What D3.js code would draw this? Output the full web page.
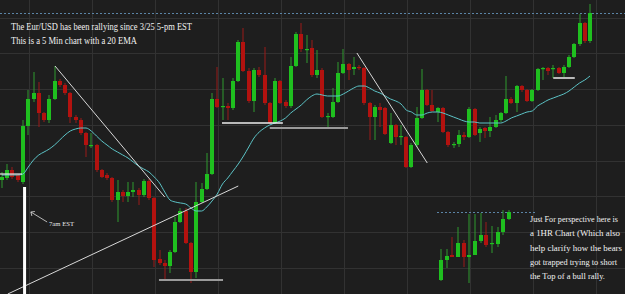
<!DOCTYPE html>
<html>
<head>
<meta charset="utf-8">
<script src="https://cdn.jsdelivr.net/npm/d3@7"></script>
<style>
  html, body { margin: 0; padding: 0; background: #1e1e1e; }
  svg { display: block; }
</style>
</head>
<body>
<svg id="chart"></svg>
<script>
// 5 min EUR/USD candles (price)
const opens = [1.2820,1.2822,1.2830,1.2825,1.2818,1.2874,1.2901,1.2907,1.2887,1.2880,
  1.2901,1.2919,1.2915,1.2907,1.2883,1.2880,1.2867,1.2854,1.2855,1.2830,
  1.2825,1.2822,1.2800,1.2808,1.2804,1.2808,1.2810,1.2805,1.2819,1.2802,
  1.2741,1.2737,1.2734,1.2748,1.2778,1.2789,1.2757,1.2728,1.2798,1.2811,
  1.2826,1.2901,1.2893,1.2894,1.2892,1.2919,1.2958,1.2929,1.2899,1.2930,
  1.2925,1.2897,1.2877,1.2919,1.2898,1.2894,1.2934,1.2966,1.2950,1.2952,
  1.2925,1.2930,1.2883,1.2883,1.2898,1.2927,1.2936,1.2931,1.2933,1.2932,
  1.2897,1.2883,1.2893,1.2892,1.2857,1.2875,1.2863,1.2863,1.2833,1.2855,
  1.2882,1.2910,1.2895,1.2888,1.2892,1.2868,1.2855,1.2856,1.2865,1.2863,
  1.2891,1.2867,1.2872,1.2869,1.2873,1.2880,1.2887,1.2901,1.2897,1.2914,
  1.2910,1.2899,1.2910,1.2931,1.2932,1.2931,1.2932,1.2927,1.2933,1.2943,
  1.2956,1.2977,1.2959];
const highs = [1.2828,1.2836,1.2833,1.2826,1.2880,1.2910,1.2928,1.2918,1.2888,1.2905,
  1.2934,1.2921,1.2917,1.2908,1.2885,1.2882,1.2868,1.2867,1.2856,1.2831,
  1.2827,1.2823,1.2820,1.2810,1.2818,1.2818,1.2812,1.2821,1.2821,1.2803,
  1.2750,1.2740,1.2750,1.2783,1.2792,1.2792,1.2758,1.2818,1.2817,1.2847,
  1.2907,1.2933,1.2922,1.2897,1.2922,1.2960,1.2972,1.2932,1.2932,1.2933,
  1.2953,1.2898,1.2922,1.2920,1.2900,1.2943,1.2968,1.2977,1.2965,1.2960,
  1.2950,1.2932,1.2887,1.2912,1.2938,1.2951,1.2937,1.2943,1.2935,1.2933,
  1.2898,1.2895,1.2897,1.2893,1.2887,1.2876,1.2875,1.2864,1.2857,1.2893,
  1.2931,1.2911,1.2910,1.2893,1.2893,1.2869,1.2858,1.2870,1.2868,1.2893,
  1.2892,1.2873,1.2873,1.2883,1.2885,1.2888,1.2924,1.2903,1.2915,1.2915,
  1.2911,1.2911,1.2932,1.2933,1.2933,1.2935,1.2933,1.2935,1.2945,1.2957,
  1.2986,1.2978,1.2996];
const lows = [1.2812,1.2820,1.2821,1.2818,1.2816,1.2865,1.2898,1.2873,1.2878,1.2877,
  1.2900,1.2913,1.2905,1.2877,1.2877,1.2865,1.2843,1.2852,1.2828,1.2822,
  1.2820,1.2798,1.2778,1.2798,1.2798,1.2803,1.2795,1.2803,1.2800,1.2733,
  1.2735,1.2720,1.2727,1.2747,1.2777,1.2756,1.2717,1.2722,1.2797,1.2810,
  1.2825,1.2892,1.2880,1.2880,1.2890,1.2918,1.2928,1.2897,1.2888,1.2923,
  1.2895,1.2876,1.2876,1.2896,1.2892,1.2892,1.2933,1.2948,1.2937,1.2923,
  1.2922,1.2882,1.2873,1.2882,1.2897,1.2926,1.2920,1.2925,1.2930,1.2895,
  1.2860,1.2860,1.2873,1.2865,1.2856,1.2855,1.2855,1.2832,1.2832,1.2853,
  1.2881,1.2894,1.2888,1.2878,1.2867,1.2853,1.2852,1.2853,1.2860,1.2862,
  1.2864,1.2858,1.2862,1.2863,1.2872,1.2878,1.2886,1.2896,1.2888,1.2908,
  1.2898,1.2898,1.2909,1.2920,1.2925,1.2922,1.2926,1.2923,1.2932,1.2942,
  1.2954,1.2957,1.2957];
const closes = [1.2823,1.2830,1.2823,1.2820,1.2874,1.2901,1.2907,1.2887,1.2880,1.2901,
  1.2919,1.2915,1.2907,1.2883,1.2880,1.2867,1.2855,1.2855,1.2830,1.2823,
  1.2822,1.2800,1.2808,1.2804,1.2808,1.2810,1.2805,1.2819,1.2802,1.2740,
  1.2737,1.2734,1.2748,1.2778,1.2789,1.2757,1.2728,1.2798,1.2811,1.2826,
  1.2901,1.2893,1.2894,1.2892,1.2919,1.2958,1.2929,1.2899,1.2930,1.2925,
  1.2897,1.2877,1.2919,1.2897,1.2894,1.2934,1.2966,1.2951,1.2951,1.2925,
  1.2930,1.2883,1.2884,1.2898,1.2927,1.2936,1.2930,1.2933,1.2932,1.2897,
  1.2883,1.2893,1.2890,1.2866,1.2875,1.2863,1.2864,1.2833,1.2855,1.2882,
  1.2910,1.2895,1.2889,1.2892,1.2868,1.2855,1.2856,1.2865,1.2863,1.2891,
  1.2865,1.2871,1.2869,1.2873,1.2880,1.2887,1.2901,1.2897,1.2914,1.2910,
  1.2899,1.2910,1.2931,1.2932,1.2929,1.2932,1.2927,1.2933,1.2943,1.2956,
  1.2977,1.2959,1.2987];
// 20 EMA as drawn on the chart
const ema20 = [1.2825,1.2825,1.2825,1.2825,1.2826,1.2833,1.2840,1.2845,1.2848,1.2851,
  1.2855,1.2860,1.2865,1.2869,1.2871,1.2872,1.2872,1.2869,1.2864,1.2859,
  1.2855,1.2851,1.2848,1.2845,1.2842,1.2838,1.2834,1.2831,1.2828,1.2823,
  1.2817,1.2808,1.2800,1.2798,1.2797,1.2796,1.2792,1.2789,1.2789,1.2793,
  1.2799,1.2806,1.2816,1.2822,1.2829,1.2836,1.2844,1.2853,1.2862,1.2868,
  1.2872,1.2875,1.2877,1.2879,1.2882,1.2887,1.2891,1.2895,1.2900,1.2904,
  1.2906,1.2905,1.2904,1.2904,1.2904,1.2906,1.2909,1.2912,1.2914,1.2914,
  1.2912,1.2909,1.2907,1.2904,1.2901,1.2899,1.2896,1.2890,1.2888,1.2885,
  1.2885,1.2887,1.2888,1.2888,1.2887,1.2885,1.2883,1.2881,1.2879,1.2878,
  1.2878,1.2877,1.2877,1.2877,1.2877,1.2877,1.2879,1.2882,1.2884,1.2886,
  1.2888,1.2889,1.2894,1.2897,1.2900,1.2902,1.2904,1.2906,1.2909,1.2913,
  1.2917,1.2920,1.2924];

// 1 hour inset candles
const hrOpens  = [1.2720,1.2740,1.2745,1.2743,1.2757,1.2743,1.2745,1.2759,1.2765,1.2756,1.2756,1.2768,1.2781];
const hrHighs  = [1.2751,1.2751,1.2763,1.2773,1.2760,1.2786,1.2786,1.2787,1.2778,1.2774,1.2773,1.2790,1.2790];
const hrLows   = [1.2719,1.2732,1.2743,1.2743,1.2733,1.2717,1.2745,1.2757,1.2753,1.2747,1.2753,1.2765,1.2780];
const hrCloses = [1.2740,1.2744,1.2743,1.2757,1.2743,1.2745,1.2759,1.2765,1.2755,1.2757,1.2768,1.2781,1.2788];

// grid levels
const gridPrices = [1.2982,1.2947,1.2911,1.2875,1.2839,1.2804,1.2768,1.2732];
const gridCandles = [5,17,29,41,53,65,77,89,101,113];

// hand drawn lines: [candle index, price] pairs
const trendLines = [
  {from: [10.1, 1.2934], to: [31.0, 1.2803], color: "#d8d8d8", w: 1},
  {from: [1.1, 1.2706], to: [45.0, 1.2814], color: "#d8d8d8", w: 1},
  {from: [67.6, 1.2947], to: [81.0, 1.2837], color: "#d8d8d8", w: 1},
  {from: [-0.4, 1.2826], to: [3.8, 1.2826], color: "#e6e6e6", w: 1.2},
  {from: [41.9, 1.2877], to: [53.5, 1.2877], color: "#eeeeee", w: 1.5},
  {from: [51.0, 1.2872], to: [65.9, 1.2872], color: "#9a9a9a", w: 2},
  {from: [29.9, 1.2720], to: [42.1, 1.2720], color: "#9a9a9a", w: 2},
  {from: [105.0, 1.2922], to: [109.1, 1.2922], color: "#eeeeee", w: 1.5}
];
const openBar = {candle: 4.3, top: 1.2813};

const width = 625, height = 294;

const svg = d3.select("#chart")
    .attr("width", width)
    .attr("height", height);

svg.append("rect")
    .attr("width", width)
    .attr("height", height)
    .attr("fill", "#1e1e1e");

// Escalas
const x = d3.scaleLinear().domain([0, 112]).range([2, 590]);
const y = d3.scaleLinear().domain([1.2706, 1.3000]).range([height, 0]);
const xHr = d3.scaleLinear().domain([0, 12]).range([441, 509]);

// grid
svg.append("g").selectAll("line")
    .data(gridPrices)
    .join("line")
    .attr("x1", 0).attr("x2", width)
    .attr("y1", d => Math.round(y(d)) + 0.5)
    .attr("y2", d => Math.round(y(d)) + 0.5)
    .attr("stroke", "#323232");

svg.append("g").selectAll("line")
    .data(gridCandles)
    .join("line")
    .attr("x1", d => Math.round(x(d) + 0.75) + 0.5)
    .attr("x2", d => Math.round(x(d) + 0.75) + 0.5)
    .attr("y1", 0).attr("y2", height)
    .attr("stroke", "#323232");

// last price lines
svg.append("line")
    .attr("x1", 0).attr("x2", width)
    .attr("y1", Math.round(y(closes[closes.length - 1])) + 0.5)
    .attr("y2", Math.round(y(closes[closes.length - 1])) + 0.5)
    .attr("stroke", "#5b84a6")
    .attr("stroke-dasharray", "2,2");

svg.append("line")
    .attr("x1", xHr(0) - 4).attr("x2", xHr(12) + 26)
    .attr("y1", Math.round(y(hrCloses[hrCloses.length - 1])) + 0.5)
    .attr("y2", Math.round(y(hrCloses[hrCloses.length - 1])) + 0.5)
    .attr("stroke", "#5b84a6")
    .attr("stroke-dasharray", "2,2");

function drawCandles(xs, O, H, L, C) {
  const g = svg.append("g");
  const idx = d3.range(O.length);
  const up = i => C[i] >= O[i];
  g.selectAll("line")
      .data(idx)
      .join("line")
      .attr("x1", i => Math.round(xs(i)))
      .attr("x2", i => Math.round(xs(i)))
      .attr("y1", i => y(H[i]))
      .attr("y2", i => y(L[i]))
      .attr("stroke", i => up(i) ? "#2f9a2f" : "#9a1a18")
      .attr("stroke-width", 1);
  g.selectAll("rect")
      .data(idx)
      .join("rect")
      .attr("x", i => Math.round(xs(i)) - 2)
      .attr("width", 4)
      .attr("y", i => y(Math.max(O[i], C[i])))
      .attr("height", i => Math.max(1.2, Math.abs(y(O[i]) - y(C[i]))))
      .attr("fill", i => up(i) ? "#1fbf1f" : "#b3120f");
}

drawCandles(x, opens, highs, lows, closes);

// EMA
svg.append("path")
    .datum(ema20)
    .attr("fill", "none")
    .attr("stroke", "#5cc3c6")
    .attr("stroke-width", 1)
    .attr("d", d3.line().x((d, i) => x(i)).y(d => y(d)).curve(d3.curveMonotoneX));

drawCandles(xHr, hrOpens, hrHighs, hrLows, hrCloses);

// trend lines
svg.append("g").selectAll("line")
    .data(trendLines)
    .join("line")
    .attr("x1", d => x(d.from[0])).attr("y1", d => y(d.from[1]))
    .attr("x2", d => x(d.to[0])).attr("y2", d => y(d.to[1]))
    .attr("stroke", d => d.color)
    .attr("stroke-width", d => d.w);

// 7am bar
svg.append("rect")
    .attr("x", x(openBar.candle) - 1.5)
    .attr("width", 3)
    .attr("y", y(openBar.top))
    .attr("height", height - y(openBar.top))
    .attr("fill", "#ffffff");

// arrow + label
const ax0 = x(8.6), ay0 = y(1.2778), ax1 = x(5.5), ay1 = y(1.2788);
svg.append("path")
    .attr("d", `M${ax0},${ay0} L${ax1},${ay1} M${ax1 + 1},${ay1 + 4} L${ax1},${ay1} L${ax1 + 4},${ay1 - 0.5}`)
    .attr("fill", "none")
    .attr("stroke", "#dddddd")
    .attr("stroke-width", 0.8);

const serif = "'Liberation Serif', 'DejaVu Serif', serif";

svg.append("text")
    .attr("x", x(8.95)).attr("y", y(1.2776) + 2)
    .attr("font-family", serif).attr("font-size", 7)
    .attr("fill", "#e8e8e8")
    .attr("textLength", 25).attr("lengthAdjust", "spacingAndGlyphs")
    .text("7am EST");

// notes
const notes = [
  {t: "The Eur/USD has been rallying since 3/25 5-pm EST", x: 11, y: 30, w: 181},
  {t: "This is a 5 Min chart with a 20 EMA", x: 11, y: 44, w: 126}
];
const sideNotes = [
  {t: "Just For perspective here is", w: 88},
  {t: "a 1HR Chart (Which also", w: 90},
  {t: "help clarify how the bears", w: 92},
  {t: "got trapped trying to short", w: 87},
  {t: "the Top of a bull rally.", w: 75}
];

svg.append("g").selectAll("text")
    .data(notes)
    .join("text")
    .attr("x", d => d.x).attr("y", d => d.y)
    .attr("font-family", serif).attr("font-size", 9.5)
    .attr("fill", "#f2f2f2")
    .attr("textLength", d => d.w).attr("lengthAdjust", "spacingAndGlyphs")
    .text(d => d.t);

svg.append("g").selectAll("text")
    .data(sideNotes)
    .join("text")
    .attr("x", 530).attr("y", (d, i) => 222 + i * 14.3)
    .attr("font-family", serif).attr("font-size", 8.2)
    .attr("fill", "#f2f2f2")
    .attr("textLength", d => d.w).attr("lengthAdjust", "spacingAndGlyphs")
    .text(d => d.t);
</script>
</body>
</html>
